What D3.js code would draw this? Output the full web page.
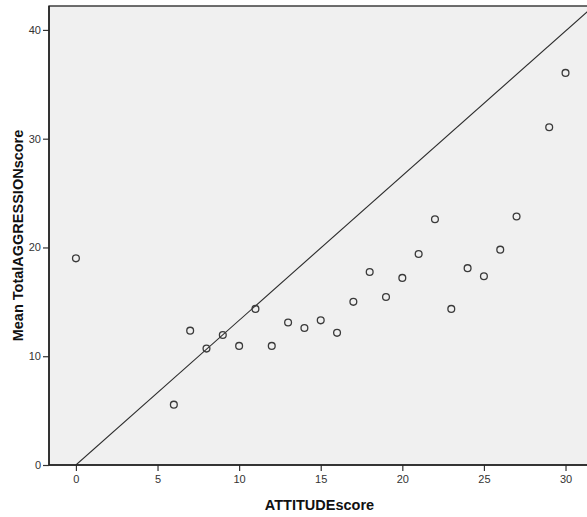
<!DOCTYPE html>
<html>
<head>
<meta charset="utf-8">
<script src="https://cdn.jsdelivr.net/npm/d3@7"></script>
<style>
  body { margin: 0; background: #ffffff; }
  svg { display: block; font-family: "Liberation Sans", Arial, sans-serif; }
</style>
</head>
<body>
<svg id="chart"></svg>
<script>
// Chart data
const attitude_scores = [0, 6, 7, 8, 9, 10, 11, 12, 13, 14, 15, 16, 17, 18, 19, 20, 21, 22, 23, 24, 25, 26, 27, 29, 30];
const mean_aggression = [19.0, 5.55, 12.35, 10.7, 11.95, 10.95, 14.35, 10.95, 13.1, 12.6, 13.3, 12.15, 15.0, 17.75, 15.45, 17.2, 19.4, 22.6, 14.35, 18.1, 17.35, 19.8, 22.85, 31.05, 36.05];
const x_ticks = [0, 5, 10, 15, 20, 25, 30];
const y_ticks = [0, 10, 20, 30, 40];
// Reference line through the origin (slope)
const ref_line_slope = 1.33;

// Dimensions
const width = 587, height = 517;
const plot_left = 49, plot_right = 590, plot_top = 6, plot_bottom = 465;

const svg = d3.select('#chart')
    .attr('width', width)
    .attr('height', height);

// Scales
const x = d3.scaleLinear().domain([-1.65, 31.5]).range([plot_left, plot_right]);
const y = d3.scaleLinear().domain([0, 42.2]).range([plot_bottom, plot_top]);

// Plot background
svg.append('rect')
    .attr('x', plot_left)
    .attr('y', plot_top)
    .attr('width', plot_right - plot_left)
    .attr('height', plot_bottom - plot_top)
    .attr('fill', '#f0f0f0')
    .attr('stroke', '#222')
    .attr('stroke-width', 1.3);

// Clip the marks to the plot area
svg.append('clipPath').attr('id', 'plot-clip')
    .append('rect')
    .attr('x', plot_left)
    .attr('y', plot_top)
    .attr('width', plot_right - plot_left)
    .attr('height', plot_bottom - plot_top);

// Reference line y = slope * x starting at the origin
const x_end = x.domain()[1];
svg.append('line')
    .attr('clip-path', 'url(#plot-clip)')
    .attr('x1', x(0)).attr('y1', y(0))
    .attr('x2', x(x_end)).attr('y2', y(ref_line_slope * x_end))
    .attr('stroke', '#2b2b2b')
    .attr('stroke-width', 1.1);

// Points
svg.append('g')
    .selectAll('circle')
    .data(attitude_scores.map((d, i) => ({ x: d, y: mean_aggression[i] })))
    .enter()
    .append('circle')
    .attr('cx', d => x(d.x))
    .attr('cy', d => y(d.y))
    .attr('r', 3.4)
    .attr('fill', 'none')
    .attr('stroke', '#3a3a3a')
    .attr('stroke-width', 1.3);

// Axes
const x_axis = svg.append('g')
    .attr('transform', 'translate(0,' + plot_bottom + ')')
    .call(d3.axisBottom(x).tickValues(x_ticks).tickSize(6).tickPadding(4).tickSizeOuter(0));

const y_axis = svg.append('g')
    .attr('transform', 'translate(' + plot_left + ',0)')
    .call(d3.axisLeft(y).tickValues(y_ticks).tickSize(6).tickPadding(2).tickSizeOuter(0));

[x_axis, y_axis].forEach(function (ax) {
    ax.select('.domain').remove();
    ax.selectAll('line').attr('stroke', '#333').attr('stroke-width', 1.2);
    ax.selectAll('text')
        .attr('fill', '#333')
        .style('font-size', '11px')
        .style('font-family', '"Liberation Sans", Arial, sans-serif');
});

// Redraw the bottom and left borders on top
svg.append('line')
    .attr('x1', plot_left).attr('x2', plot_right)
    .attr('y1', plot_bottom).attr('y2', plot_bottom)
    .attr('stroke', '#222').attr('stroke-width', 1.5);
svg.append('line')
    .attr('x1', plot_left).attr('x2', plot_left)
    .attr('y1', plot_top).attr('y2', plot_bottom)
    .attr('stroke', '#222').attr('stroke-width', 1.5);

// Axis titles
svg.append('text')
    .attr('x', (plot_left + plot_right) / 2)
    .attr('y', 510)
    .attr('text-anchor', 'middle')
    .style('font-weight', 'bold')
    .style('font-size', '14.5px')
    .attr('fill', '#111')
    .text('ATTITUDEscore');

svg.append('text')
    .attr('transform', 'translate(23,' + (plot_top + plot_bottom) / 2 + ') rotate(-90)')
    .attr('text-anchor', 'middle')
    .style('font-weight', 'bold')
    .style('font-size', '14.5px')
    .attr('fill', '#111')
    .text('Mean TotalAGGRESSIONscore');
</script>
</body>
</html>
